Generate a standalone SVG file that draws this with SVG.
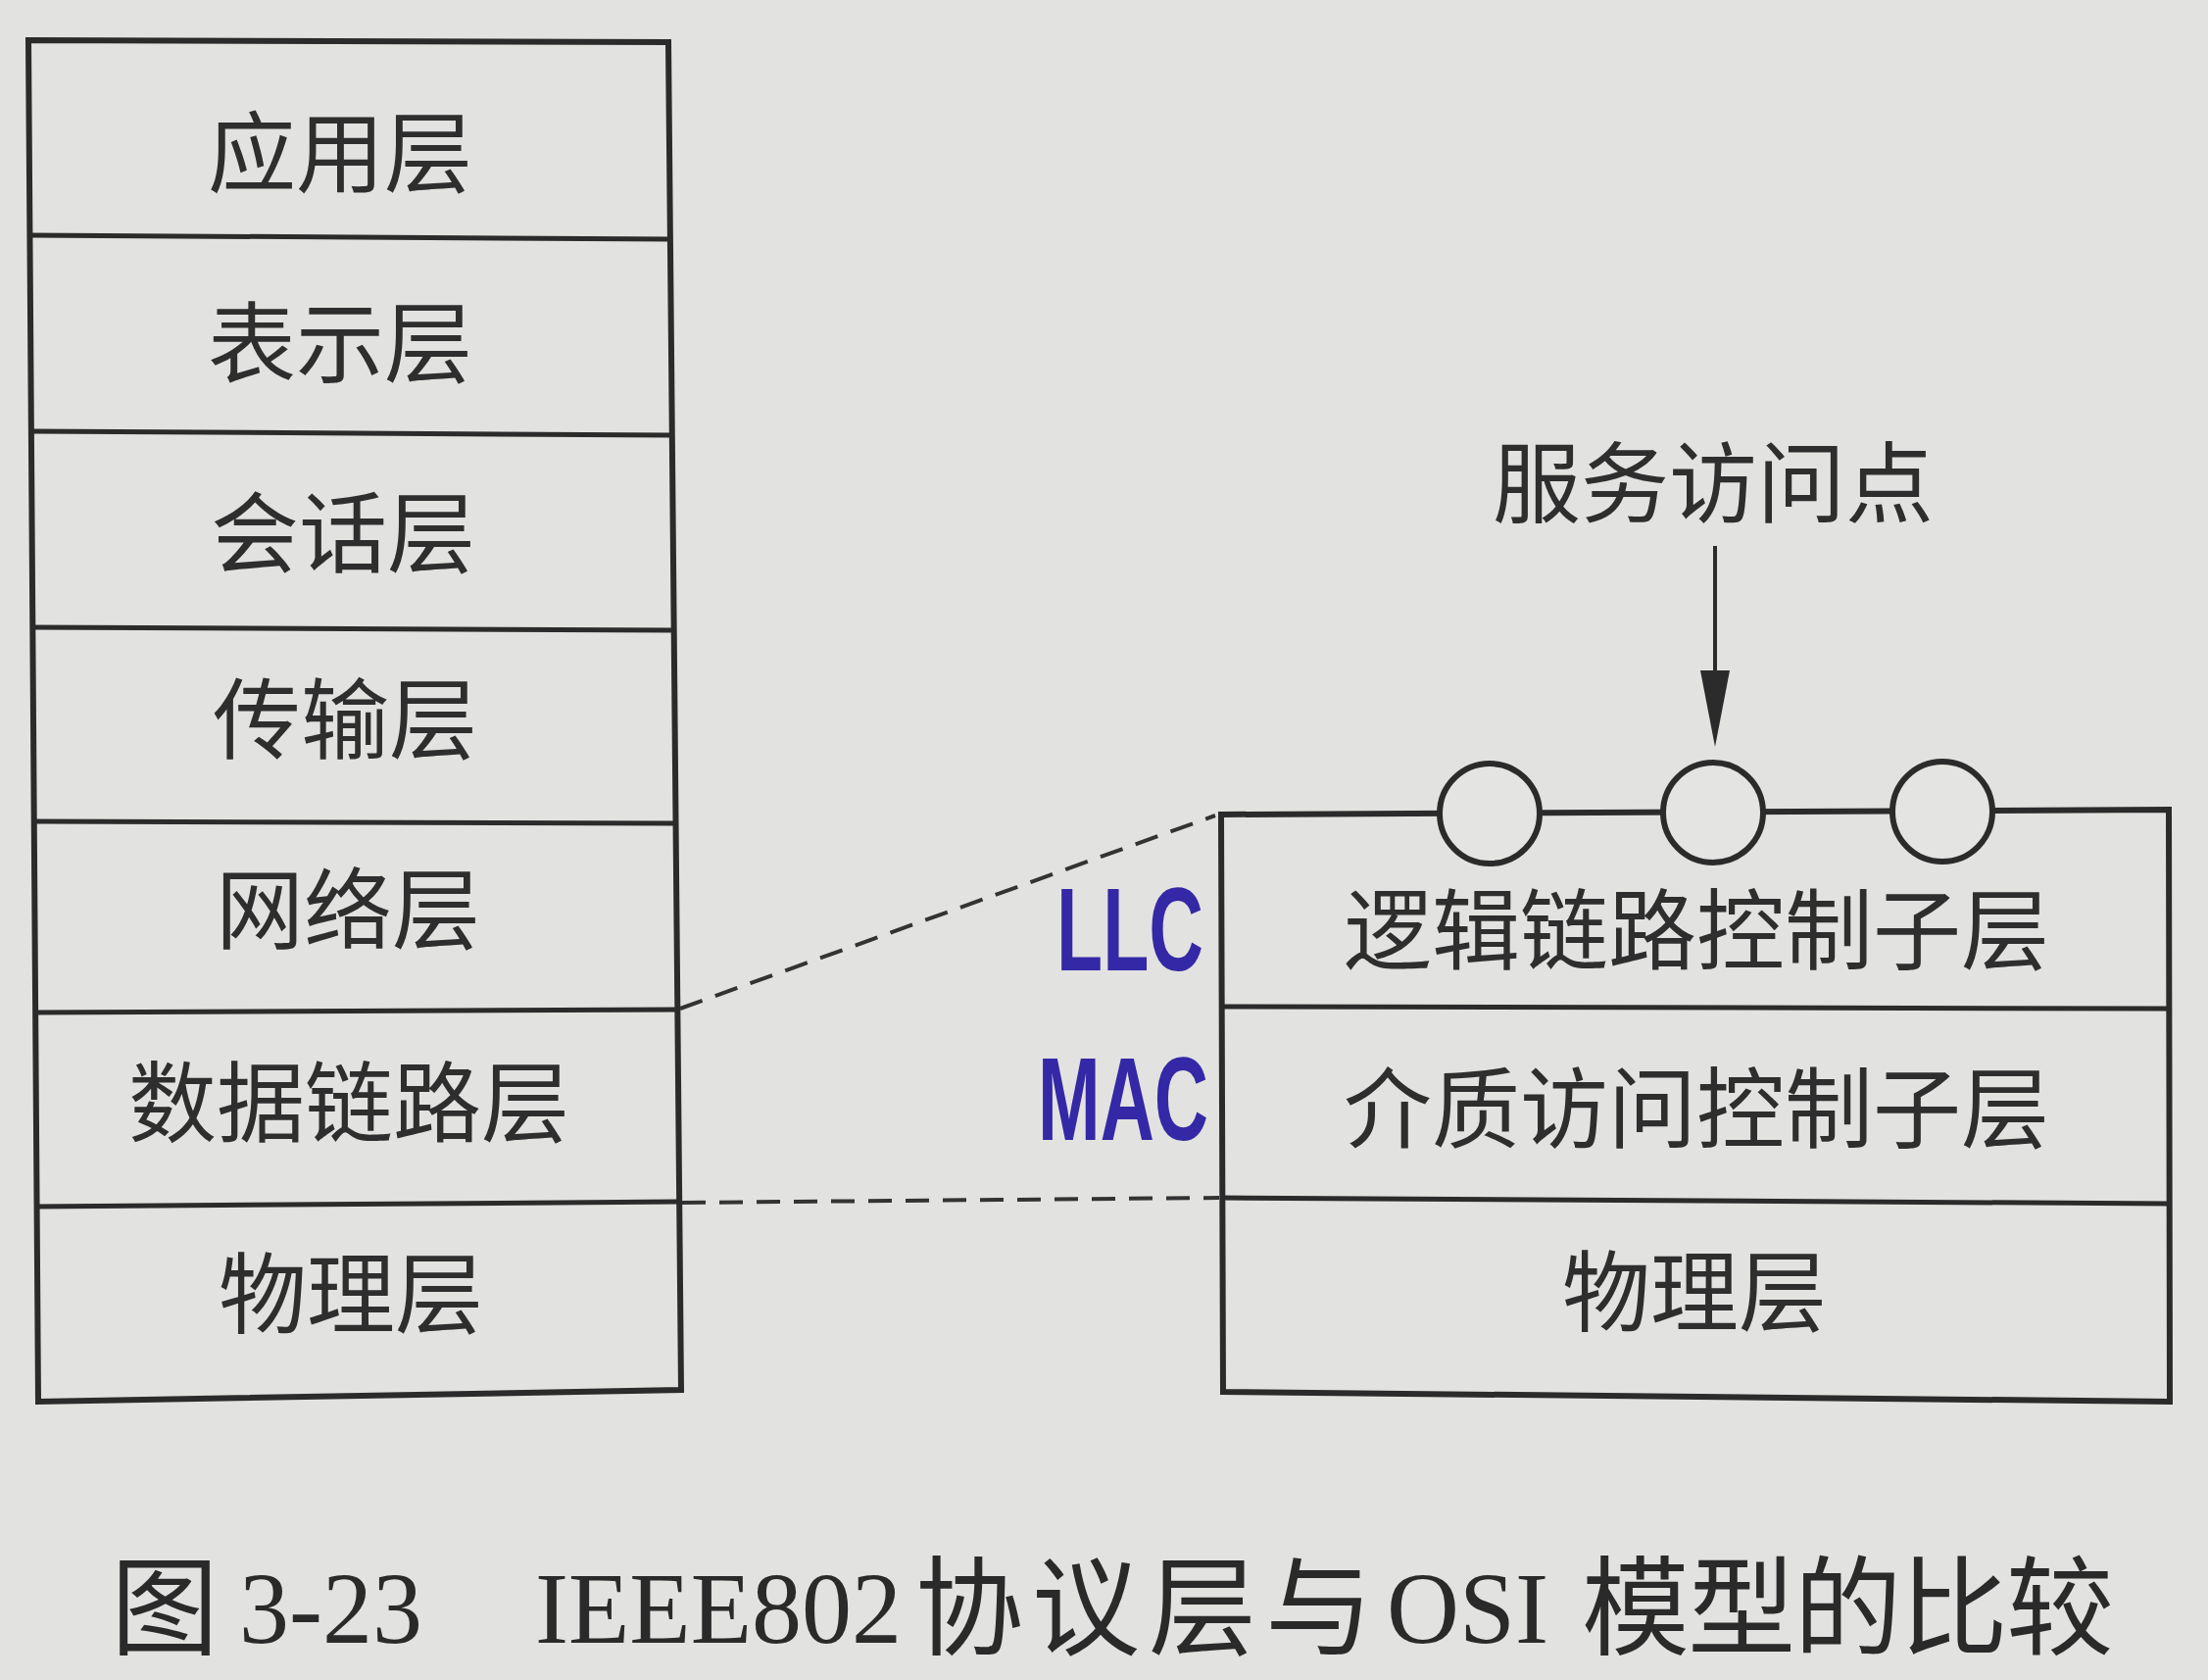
<svg xmlns="http://www.w3.org/2000/svg" width="2253" height="1714" viewBox="0 0 2253 1714">
<defs>
<style>
.bg{fill:#e2e2e0}
.box{fill:none;stroke:#2b2b2b;stroke-width:6;stroke-linejoin:miter}
.row{fill:none;stroke:#2b2b2b;stroke-width:5}
.sap{fill:#e4e4e2;stroke:#2b2b2b;stroke-width:6}
.dash{fill:none;stroke:#333;stroke-width:4;stroke-dasharray:24 14}
.arr{fill:none;stroke:#2b2b2b;stroke-width:4}
.cjk{font-family:"Noto Sans CJK SC","Noto Sans CJK JP",sans-serif;font-size:90px;fill:#2e2e2e;text-anchor:middle}
.hand{font-family:"Liberation Sans","DejaVu Sans",sans-serif;font-size:120px;font-weight:bold;fill:#3428a6;text-anchor:middle}
.cap{font-family:"Liberation Serif","Noto Sans CJK SC",serif;fill:#2a2a2a;font-size:104px}
.capc{font-family:"Noto Sans CJK SC","Noto Sans CJK JP",sans-serif;fill:#2a2a2a;font-size:110px}
</style>
<marker id="ah" viewBox="0 0 78 30" markerWidth="78" markerHeight="30" refX="0" refY="15" markerUnits="userSpaceOnUse" orient="auto">
<path d="M0,0 L78,15 L0,30 z" fill="#2b2b2b"/>
</marker>
</defs>
<rect class="bg" x="0" y="0" width="2253" height="1714"/>

<g id="osi-stack">
<path class="box" d="M29,41 L682,43 L695,1418 L39,1430 Z"/>
<line class="row" x1="30" y1="240" x2="684" y2="244"/>
<line class="row" x1="32" y1="440" x2="686" y2="444"/>
<line class="row" x1="33" y1="640" x2="688" y2="643"/>
<line class="row" x1="35" y1="838" x2="690" y2="840"/>
<line class="row" x1="36" y1="1033" x2="692" y2="1030"/>
<line class="row" x1="37" y1="1231" x2="693" y2="1226"/>
</g>
<g id="osi-app"><text class="cjk" x="347" y="189">应用层</text></g>
<g id="osi-pres"><text class="cjk" x="347" y="383">表示层</text></g>
<g id="osi-sess"><text class="cjk" x="350" y="577">会话层</text></g>
<g id="osi-trans"><text class="cjk" x="352" y="767">传输层</text></g>
<g id="osi-net"><text class="cjk" x="355" y="961">网络层</text></g>
<g id="osi-dl"><text class="cjk" x="356" y="1158">数据链路层</text></g>
<g id="osi-phy"><text class="cjk" x="358" y="1353">物理层</text></g>

<g id="ieee-stack">
<path class="box" d="M1246,831 L2213,826 L2214,1430 L1248,1420 Z"/>
<line class="row" x1="1246" y1="1027" x2="2213" y2="1029"/>
<line class="row" x1="1247" y1="1222" x2="2214" y2="1228"/>
</g>
<g id="sap-points">
<circle class="sap" cx="1520" cy="830" r="51"/>
<circle class="sap" cx="1748" cy="829" r="51"/>
<circle class="sap" cx="1982" cy="828" r="51"/>
</g>
<g id="ieee-llc"><text class="cjk" x="1731" y="982">逻辑链路控制子层</text></g>
<g id="ieee-mac"><text class="cjk" x="1731" y="1164">介质访问控制子层</text></g>
<g id="ieee-phy"><text class="cjk" x="1729" y="1351">物理层</text></g>
<g id="sap-label"><text class="cjk" x="1748" y="526">服务访问点</text></g>
<g id="llc-note"><text class="hand" x="1153" y="990" textLength="150" lengthAdjust="spacingAndGlyphs">LLC</text></g>
<g id="mac-note"><text class="hand" x="1146" y="1163" textLength="174" lengthAdjust="spacingAndGlyphs">MAC</text></g>

<g id="connectors">
<line class="dash" x1="694" y1="1029" x2="1240" y2="832"/>
<line class="dash" x1="696" y1="1227" x2="1244" y2="1222"/>
<line class="arr" x1="1750" y1="557" x2="1750" y2="684" marker-end="url(#ah)"/>
</g>

<g id="caption">
<text class="capc" x="113" y="1680">图</text>
<text class="cap" x="244" y="1676" textLength="187" lengthAdjust="spacingAndGlyphs">3-23</text>
<text class="cap" x="546" y="1676" textLength="374" lengthAdjust="spacingAndGlyphs">IEEE802</text>
<text class="capc" x="934" y="1680" textLength="467" lengthAdjust="spacing">协议层与</text>
<text class="cap" x="1415" y="1676" textLength="165" lengthAdjust="spacingAndGlyphs">OSI</text>
<text class="capc" x="1614" y="1680" textLength="543" lengthAdjust="spacing">模型的比较</text>
</g>
</svg>
